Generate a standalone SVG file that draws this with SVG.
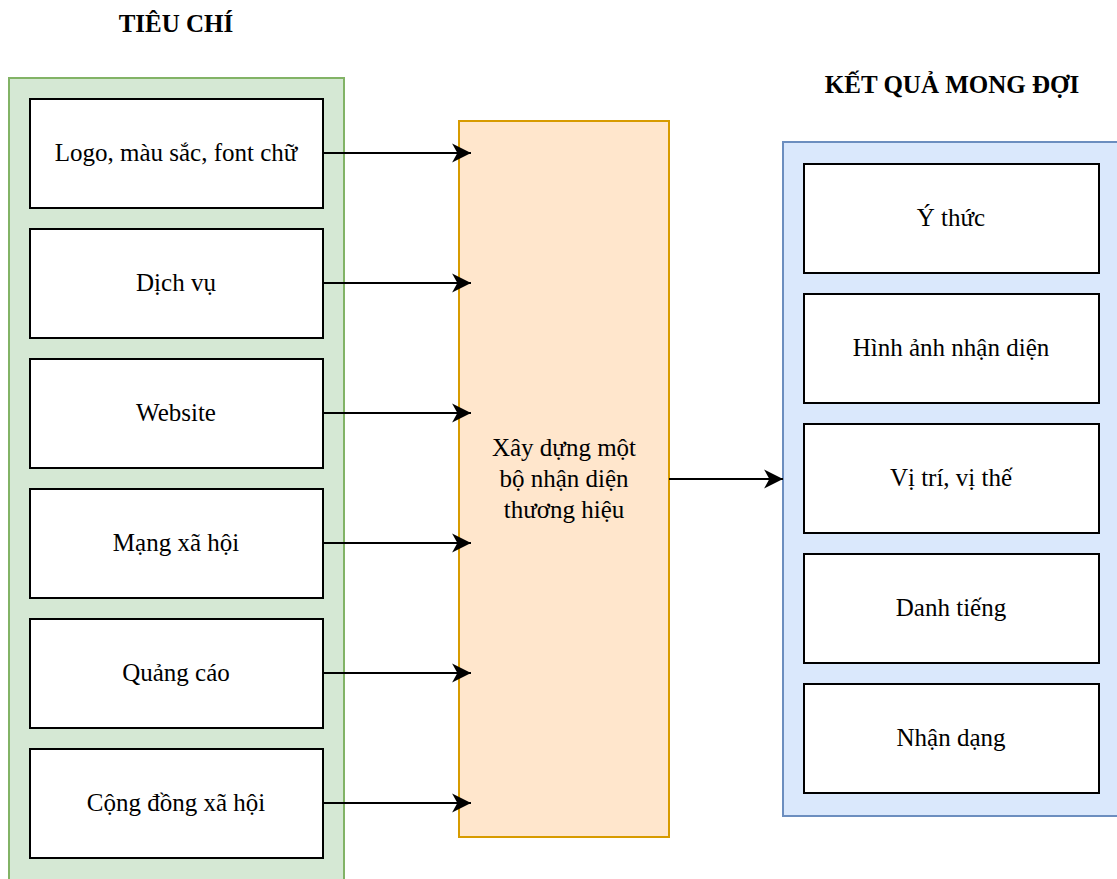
<svg xmlns="http://www.w3.org/2000/svg" width="1117" height="879" viewBox="0 0 1117 879">
  <style>
    text { font-family: "Liberation Serif", "Times New Roman", serif; font-size: 25px; fill: #000; text-anchor: middle; }
    .title { font-weight: bold; }
    .item { fill: #ffffff; stroke: #000000; stroke-width: 2; }
    .edge { stroke: #000000; stroke-width: 2; fill: none; marker-end: url(#arrow); }
  </style>
  <defs>
    <marker id="arrow" viewBox="0 0 20 20" refX="19" refY="10" markerWidth="21" markerHeight="21" markerUnits="userSpaceOnUse" orient="auto">
      <path d="M1,1 L19,10 L1,19 L6,10 Z" fill="#000000"/>
    </marker>
  </defs>
  <rect width="1117" height="879" fill="#ffffff"/>

  <!-- headings -->
  <text class="title" x="176" y="32">TIÊU CHÍ</text>
  <text class="title" x="952" y="93">KẾT QUẢ MONG ĐỢI</text>

  <!-- criteria column -->
  <g id="criteria">
    <rect x="9" y="78" width="335" height="820" fill="#d5e8d4" stroke="#82b366" stroke-width="2"/>
  </g>
  <g id="logo"><rect class="item" x="30" y="99" width="293" height="109"/><text x="176" y="161">Logo, màu sắc, font chữ</text></g>
  <g id="dich-vu"><rect class="item" x="30" y="229" width="293" height="109"/><text x="176" y="291">Dịch vụ</text></g>
  <g id="website"><rect class="item" x="30" y="359" width="293" height="109"/><text x="176" y="421">Website</text></g>
  <g id="mang-xa-hoi"><rect class="item" x="30" y="489" width="293" height="109"/><text x="176" y="551">Mạng xã hội</text></g>
  <g id="quang-cao"><rect class="item" x="30" y="619" width="293" height="109"/><text x="176" y="681">Quảng cáo</text></g>
  <g id="cong-dong"><rect class="item" x="30" y="749" width="293" height="109"/><text x="176" y="811">Cộng đồng xã hội</text></g>

  <!-- central goal -->
  <g id="bo-nhan-dien">
    <rect x="459" y="121" width="210" height="716" fill="#ffe6cc" stroke="#d79b00" stroke-width="2"/>
    <text x="564" y="456">Xây dựng một</text>
    <text x="564" y="487">bộ nhận diện</text>
    <text x="564" y="518">thương hiệu</text>
  </g>

  <!-- expected results column -->
  <g id="ket-qua">
    <rect x="783" y="142" width="345" height="674" fill="#dae8fc" stroke="#6c8ebf" stroke-width="2"/>
  </g>
  <g id="y-thuc"><rect class="item" x="804" y="164" width="295" height="109"/><text x="951" y="226">Ý thức</text></g>
  <g id="hinh-anh"><rect class="item" x="804" y="294" width="295" height="109"/><text x="951" y="356">Hình ảnh nhận diện</text></g>
  <g id="vi-tri"><rect class="item" x="804" y="424" width="295" height="109"/><text x="951" y="486">Vị trí, vị thế</text></g>
  <g id="danh-tieng"><rect class="item" x="804" y="554" width="295" height="109"/><text x="951" y="616">Danh tiếng</text></g>
  <g id="nhan-dang"><rect class="item" x="804" y="684" width="295" height="109"/><text x="951" y="746">Nhận dạng</text></g>

  <!-- connectors -->
  <g id="connectors">
    <line class="edge" x1="323" y1="153" x2="471" y2="153"/>
    <line class="edge" x1="323" y1="283" x2="471" y2="283"/>
    <line class="edge" x1="323" y1="413" x2="471" y2="413"/>
    <line class="edge" x1="323" y1="543" x2="471" y2="543"/>
    <line class="edge" x1="323" y1="673" x2="471" y2="673"/>
    <line class="edge" x1="323" y1="803" x2="471" y2="803"/>
    <line class="edge" x1="669" y1="479" x2="783" y2="479"/>
  </g>
</svg>
